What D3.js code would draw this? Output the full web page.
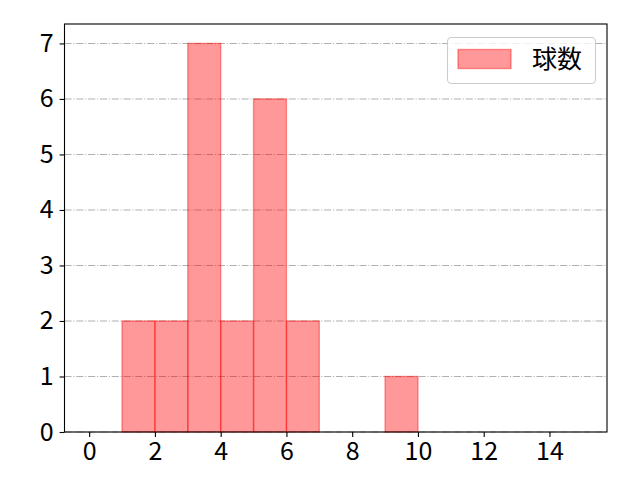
<!DOCTYPE html>
<html>
<head>
<meta charset="utf-8">
<script src="https://cdn.jsdelivr.net/npm/d3@7"></script>
<style>
  body { margin: 0; background: white; }
  svg { font-family: 'Noto Sans CJK JP', 'Noto Sans', sans-serif; }
</style>
</head>
<body>
<script>
// histogram bins (edges) and counts
const binStarts = [1, 2, 3, 4, 5, 6, 9];
const binEnds = [2, 3, 4, 5, 6, 7, 10];
const counts = [2, 2, 7, 2, 6, 2, 1];
const xTicks = [0, 2, 4, 6, 8, 10, 12, 14];
const yTicks = [0, 1, 2, 3, 4, 5, 6, 7];
const seriesName = '球数';

const width = 640;
const height = 480;
const margin = { left: 64.5, right: 33, top: 24, bottom: 48 };
const fontSize = '25px';

const xScale = d3.scaleLinear()
  .domain([-0.75, 15.75])
  .range([margin.left, width - margin.right])

const yScale = d3.scaleLinear()
  .domain([0, 7.35])
  .range([height - margin.bottom, margin.top])

const svg = d3.select('body')
  .append('svg')
  .attr('width', width)
  .attr('height', height)

// grid
svg.append('g')
  .selectAll('line')
  .data(yTicks)
  .enter()
  .append('line')
  .attr('x1', margin.left)
  .attr('x2', width - margin.right)
  .attr('y1', d => yScale(d))
  .attr('y2', d => yScale(d))
  .style('stroke', '#b0b0b0')
  .style('stroke-width', 1.1)
  .style('stroke-dasharray', '7.1,1.8,1.1,1.8')

// bars
svg.append('g')
  .selectAll('rect')
  .data(counts)
  .enter()
  .append('rect')
  .attr('x', (d, i) => xScale(binStarts[i]))
  .attr('y', d => yScale(d))
  .attr('width', (d, i) => xScale(binEnds[i]) - xScale(binStarts[i]))
  .attr('height', d => yScale(0) - yScale(d))
  .style('fill', 'red')
  .style('fill-opacity', 0.4)
  .style('stroke', 'red')
  .style('stroke-opacity', 0.4)
  .style('stroke-width', 1.4)

// axes
const xAxis = d3.axisBottom(xScale).tickValues(xTicks).tickSize(4.9).tickPadding(5)
const yAxis = d3.axisLeft(yScale).tickValues(yTicks).tickSize(4.9).tickPadding(6)

svg.append('g')
  .attr('transform', `translate(0, ${height - margin.bottom})`)
  .call(xAxis)
svg.append('g')
  .attr('transform', `translate(${margin.left}, 0)`)
  .call(yAxis)

svg.selectAll('.domain').remove()
svg.selectAll('.tick line').style('stroke', 'black').style('stroke-width', 1.1)
svg.selectAll('.tick text')
  .attr('font-size', null)
  .style('font-size', fontSize)
  .style('font-family', "'Noto Sans CJK JP', sans-serif")
  .style('fill', 'black')

// frame
svg.append('rect')
  .attr('x', margin.left)
  .attr('y', margin.top)
  .attr('width', width - margin.right - margin.left)
  .attr('height', height - margin.bottom - margin.top)
  .style('fill', 'none')
  .style('stroke', 'black')
  .style('stroke-width', 1.1)

// legend
const legend = svg.append('g')
legend.append('rect')
  .attr('x', 447.5)
  .attr('y', 37.5)
  .attr('width', 148)
  .attr('height', 46)
  .attr('rx', 4)
  .style('fill', 'white')
  .style('fill-opacity', 0.8)
  .style('stroke', '#cccccc')
  .style('stroke-width', 1.1)
legend.append('rect')
  .attr('x', 458)
  .attr('y', 49.5)
  .attr('width', 53)
  .attr('height', 19)
  .style('fill', 'red')
  .style('fill-opacity', 0.4)
  .style('stroke', 'red')
  .style('stroke-opacity', 0.4)
  .style('stroke-width', 1.4)
legend.append('text')
  .text(seriesName)
  .attr('x', 532)
  .attr('y', 68)
  .style('font-size', fontSize)
  .style('fill', 'black')
</script>
</body>
</html>
